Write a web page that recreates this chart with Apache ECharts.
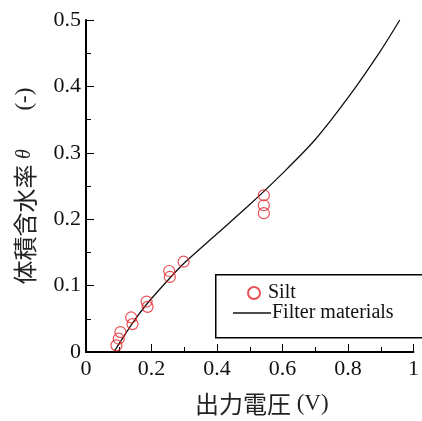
<!DOCTYPE html>
<html lang="ja">
  <head>
    <meta charset="UTF-8">
    <title>出力電圧と体積含水率</title>
    <style>
      html, body { margin: 0; padding: 0; background: #fff; }
      #main { width: 422px; height: 421px; }
    </style>
  </head>
  <body>
    <div id="main"></div>
  </body>
  <script type="text/javascript" src="https://cdn.jsdelivr.net/npm/echarts@6/dist/echarts.min.js"></script>
  <script type="text/javascript">
    // Silt の測定値
    var siltVoltage = [0.093, 0.1, 0.105, 0.138, 0.142, 0.185, 0.188, 0.254, 0.256, 0.298, 0.543, 0.543, 0.543];
    var siltTheta = [0.01, 0.02, 0.03, 0.052, 0.042, 0.076, 0.068, 0.122, 0.113, 0.136, 0.236, 0.221, 0.209];

    // Filter materials の校正曲線
    var filterVoltage = [0.085, 0.12, 0.15, 0.187, 0.25, 0.3, 0.4, 0.5, 0.6, 0.7, 0.8, 0.9, 0.958];
    var filterTheta = [0, 0.027, 0.049, 0.073, 0.108, 0.134, 0.178, 0.222, 0.269, 0.32, 0.383, 0.454, 0.5];

    var xTicks = [0, 0.2, 0.4, 0.6, 0.8, 1];
    var yTicks = [0, 0.1, 0.2, 0.3, 0.4, 0.5];

    var serif = 'Liberation Serif, Times New Roman, DejaVu Serif, serif';
    var cjk = 'Noto Sans CJK JP, sans-serif';
    var red = '#e3242b';

    function pairs(xs, ys) {
      return xs.map(function(x, i) { return [x, ys[i]]; });
    }

    var myChart = echarts.init(document.getElementById('main'));

    var axisCommon = {
      axisLine: { onZero: false, lineStyle: { color: '#000', width: 2 } },
      axisTick: { inside: true, length: 8, lineStyle: { color: '#000', width: 1 } },
      minorTick: { show: true, splitNumber: 2, length: 5, lineStyle: { color: '#000', width: 1 } },
      splitLine: { show: false },
      axisLabel: {
        color: '#111', fontFamily: serif, fontSize: 22,
        formatter: function(v) { return String(+v.toFixed(2)); }
      }
    };

    // 軸タイトル用の rich スタイル
    var nameRich = {
      c: { fontFamily: cjk, fontSize: 24, color: '#222', verticalAlign: 'middle' },
      s: { fontFamily: serif, fontSize: 23, color: '#222', verticalAlign: 'middle' },
      g: { fontFamily: serif, fontSize: 22, color: '#222', verticalAlign: 'middle' },
      i: { fontFamily: serif, fontStyle: 'italic', fontSize: 20, color: '#222', verticalAlign: 'middle' }
    };

    var legendText = { color: '#111', fontFamily: serif, fontSize: 20, lineHeight: 20 };

    var option = {
      animation: false,
      grid: { left: 86, right: 2, top: 20, bottom: 67, containLabel: false },
      // 凡例の枠
      graphic: [{
        type: 'rect',
        left: 215,
        top: 274,
        shape: { width: 215, height: 63 },
        style: { fill: '#fff', stroke: '#000', lineWidth: 1.5 },
        z: 5
      }],
      legend: [
        {
          left: 247,
          top: 283,
          padding: 0,
          itemWidth: 12,
          itemHeight: 12,
          textStyle: Object.assign({}, legendText, { padding: [0, 0, 0, 3] }),
          data: ['Silt'],
          z: 10
        },
        {
          left: 233,
          top: 303,
          padding: 0,
          itemWidth: 38,
          itemHeight: 1.4,
          itemGap: 0,
          textStyle: Object.assign({}, legendText, { padding: [0, 0, 0, -4] }),
          data: [{ name: 'Filter materials', icon: 'rect' }],
          z: 10
        }
      ],
      xAxis: Object.assign({}, axisCommon, {
        type: 'value',
        min: xTicks[0],
        max: xTicks[xTicks.length - 1],
        interval: 0.2,
        name: '{c|出力電圧}{s| (V)}',
        nameLocation: 'middle',
        nameGap: 40,
        nameTextStyle: { padding: [0, 0, 0, 24], rich: nameRich },
        axisLabel: Object.assign({}, axisCommon.axisLabel, { margin: 6 })
      }),
      yAxis: Object.assign({}, axisCommon, {
        type: 'value',
        min: yTicks[0],
        max: yTicks[yTicks.length - 1],
        interval: 0.1,
        name: '{c|体積含水率}{g| }{i|θ}{g|       }{s|(-)}',
        nameLocation: 'middle',
        nameGap: 49,
        nameTextStyle: { rich: nameRich },
        axisLabel: Object.assign({}, axisCommon.axisLabel, { margin: 5 })
      }),
      series: [
        {
          name: 'Silt',
          type: 'scatter',
          symbol: 'circle',
          symbolSize: 11,
          itemStyle: { color: 'transparent', borderColor: red, borderWidth: 1.2 },
          data: pairs(siltVoltage, siltTheta),
          z: 3
        },
        {
          name: 'Filter materials',
          type: 'line',
          smooth: 0.3,
          showSymbol: false,
          symbol: 'none',
          lineStyle: { color: '#111', width: 1.3 },
          itemStyle: { color: '#111' },
          data: pairs(filterVoltage, filterTheta),
          z: 2
        }
      ]
    };

    myChart.setOption(option);
  </script>
</html>
